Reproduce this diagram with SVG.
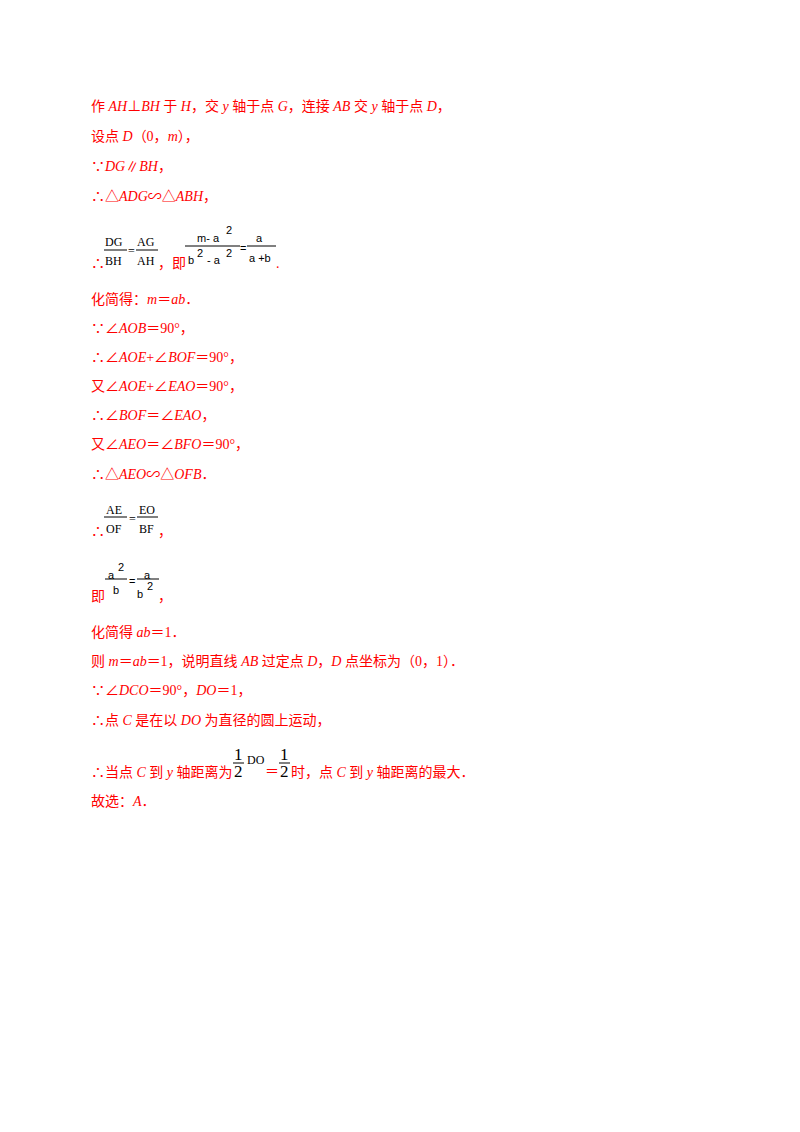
<svg xmlns="http://www.w3.org/2000/svg" width="800" height="1132" viewBox="0 0 800 1132">
<style>
.t{font-family:"Liberation Serif","Noto Sans CJK SC",serif;font-size:14px;fill:#f00}
.m{font-family:"Liberation Serif",serif;font-size:12px;fill:#000}
.s{font-family:"Liberation Sans",serif;font-size:11px;fill:#000}
.f{font-family:"Liberation Serif",serif;font-size:17px;fill:#000}
.i{font-style:italic}
line{stroke:#000;stroke-width:1}
</style>
<rect width="800" height="1132" fill="#fff"/>
<g id="text">
<text class="t" x="91" y="111">作 <tspan class="i">AH</tspan>⊥<tspan class="i">BH</tspan> 于 <tspan class="i">H</tspan>，交 <tspan class="i">y</tspan> 轴于点 <tspan class="i">G</tspan>，连接 <tspan class="i">AB</tspan> 交 <tspan class="i">y</tspan> 轴于点 <tspan class="i">D</tspan>，</text>
<text class="t" x="91" y="141">设点 <tspan class="i">D</tspan>（0，<tspan class="i">m</tspan>），</text>
<text class="t" x="91" y="171">∵<tspan class="i">DG</tspan>∥<tspan class="i">BH</tspan>，</text>
<text class="t" x="91" y="201">∴△<tspan class="i">ADG</tspan>∽△<tspan class="i">ABH</tspan>，</text>
<text class="t" x="91" y="268">∴</text>
<text class="m" x="105" y="246">DG</text><line x1="104" y1="250" x2="127" y2="250"/><text class="m" x="105" y="265">BH</text>
<text class="m" x="128" y="255">=</text>
<text class="m" x="137" y="246">AG</text><line x1="136" y1="250" x2="158" y2="250"/><text class="m" x="137" y="265">AH</text>
<text class="t" x="158" y="268">，即</text>
<text class="s" x="197" y="242">m- a</text><text class="s" x="226" y="234">2</text>
<line x1="185" y1="246" x2="240" y2="246"/>
<text class="s" x="188" y="264">b</text><text class="s" x="197" y="257">2</text><text class="s" x="207" y="264">- a</text><text class="s" x="226" y="257">2</text>
<text class="s" x="240" y="252">=</text>
<text class="s" x="256" y="242">a</text><line x1="247" y1="246" x2="276" y2="246"/><text class="s" x="249" y="262">a +b</text>
<text class="t" x="276" y="268">.</text>
<text class="t" x="91" y="304">化简得：<tspan class="i">m</tspan>＝<tspan class="i">ab</tspan>．</text>
<text class="t" x="91" y="333">∵∠<tspan class="i">AOB</tspan>＝90°，</text>
<text class="t" x="91" y="362">∴∠<tspan class="i">AOE</tspan>+∠<tspan class="i">BOF</tspan>＝90°，</text>
<text class="t" x="91" y="391">又∠<tspan class="i">AOE</tspan>+∠<tspan class="i">EAO</tspan>＝90°，</text>
<text class="t" x="91" y="420">∴∠<tspan class="i">BOF</tspan>＝∠<tspan class="i">EAO</tspan>，</text>
<text class="t" x="91" y="449">又∠<tspan class="i">AEO</tspan>＝∠<tspan class="i">BFO</tspan>＝90°，</text>
<text class="t" x="91" y="479">∴△<tspan class="i">AEO</tspan>∽△<tspan class="i">OFB</tspan>．</text>
<text class="t" x="91" y="536">∴</text>
<text class="m" x="106" y="514">AE</text><line x1="104" y1="517" x2="127" y2="517"/><text class="m" x="106" y="533">OF</text>
<text class="m" x="129" y="523">=</text>
<text class="m" x="139" y="514">EO</text><line x1="137" y1="517" x2="158" y2="517"/><text class="m" x="139" y="533">BF</text>
<text class="t" x="158" y="536">，</text>
<text class="t" x="91" y="601">即</text>
<text class="s" x="108" y="579">a</text><text class="s" x="118" y="571">2</text><line x1="105" y1="579" x2="127" y2="579"/><text class="s" x="113" y="594">b</text>
<text class="s" x="129" y="585">=</text>
<text class="s" x="144" y="579">a</text><line x1="137" y1="579" x2="159" y2="579"/><text class="s" x="137" y="598">b</text><text class="s" x="147" y="590">2</text>
<text class="t" x="158" y="601">，</text>
<text class="t" x="91" y="637">化简得 <tspan class="i">ab</tspan>＝1．</text>
<text class="t" x="91" y="666">则 <tspan class="i">m</tspan>＝<tspan class="i">ab</tspan>＝1，说明直线 <tspan class="i">AB</tspan> 过定点 <tspan class="i">D</tspan>，<tspan class="i">D</tspan> 点坐标为（0，1）．</text>
<text class="t" x="91" y="695">∵∠<tspan class="i">DCO</tspan>＝90°，<tspan class="i">DO</tspan>＝1，</text>
<text class="t" x="91" y="725">∴点 <tspan class="i">C</tspan> 是在以 <tspan class="i">DO</tspan> 为直径的圆上运动，</text>
<text class="t" x="91" y="777">∴当点 <tspan class="i">C</tspan> 到 <tspan class="i">y</tspan> 轴距离为</text>
<text class="f" x="234" y="760">1</text><line x1="233" y1="763" x2="244" y2="763"/><text class="f" x="234" y="777">2</text>
<text class="m" x="247" y="764">DO</text>
<text class="t" x="265" y="776">＝</text>
<text class="f" x="280" y="760">1</text><line x1="279" y1="763" x2="290" y2="763"/><text class="f" x="280" y="777">2</text>
<text class="t" x="291" y="777">时，点 <tspan class="i">C</tspan> 到 <tspan class="i">y</tspan> 轴距离的最大．</text>
<text class="t" x="91" y="806">故选：<tspan class="i">A</tspan>．</text>
</g>
</svg>
